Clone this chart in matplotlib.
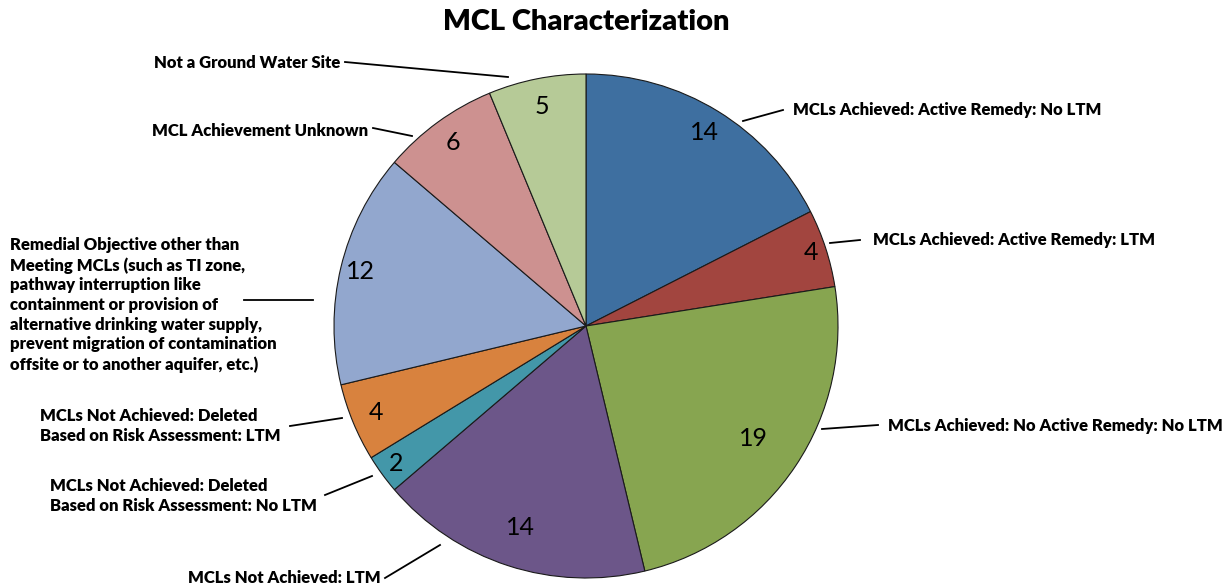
import numpy as np
import matplotlib.pyplot as plt

plt.rcParams['font.family'] = ['Lato', 'DejaVu Sans']

labels = ['MCLs Achieved: Active Remedy: No LTM',
          'MCLs Achieved: Active Remedy: LTM',
          'MCLs Achieved: No Active Remedy: No LTM',
          'MCLs Not Achieved: LTM',
          'MCLs Not Achieved: Deleted\nBased on Risk Assessment: No LTM',
          'MCLs Not Achieved: Deleted\nBased on Risk Assessment: LTM',
          'Remedial Objective other than\nMeeting MCLs (such as TI zone,\npathway interruption like\n'
          'containment or provision of\nalternative drinking water supply,\n'
          'prevent migration of contamination\noffsite or to another aquifer, etc.)',
          'MCL Achievement Unknown',
          'Not a Ground Water Site']
counts = [14, 4, 19, 14, 2, 4, 12, 6, 5]
colors = ['#3E6FA0', '#A2453F', '#87A550', '#6C5689', '#4397A9',
          '#D8823E', '#92A7CE', '#CD9190', '#B6CA97']

W, H = 1230, 588
cx, cy, R = 586, H - 326, 252

# layout: number label radial distance, label text anchor, leader line (pixel coords, y down)
num_dist = [0.9, 0.94, 0.8, 0.84, 0.93, 0.9, 0.92, 0.9, 0.89]
text_pos = [(793, 110, 'left'), (873, 240, 'left'), (888, 426, 'left'),
            (381, 578, 'right'), (50, 496, 'left'), (40, 426, 'left'),
            (10, 305, 'left'), (368, 131, 'right'), (340, 63, 'right')]
leaders = [((743, 121), (783, 110)), ((830, 243), (860, 240)),
           ((822, 429), (878, 425)), ((385, 578), (440, 545)),
           ((325, 495), (372, 476)), ((290, 426), (342, 418)),
           ((244, 300), (313, 300)), ((373, 128), (412, 136)),
           ((345, 62), (508, 77))]

fig = plt.figure(figsize=(12.3, 5.88), dpi=100)
ax = fig.add_axes([0, 0, 1, 1])

wedges, _ = ax.pie(counts, colors=colors, startangle=90, counterclock=False,
                   center=(cx, cy), radius=R,
                   wedgeprops=dict(edgecolor='#1a1a1a', linewidth=0.8))

for w, n, d in zip(wedges, counts, num_dist):
    ang = np.deg2rad((w.theta1 + w.theta2) / 2)
    ax.text(cx + d * R * np.cos(ang), cy + d * R * np.sin(ang), str(n),
            ha='center', va='center', fontsize=18, color='black')

for lab, (tx, ty, ha), ((x0, y0), (x1, y1)) in zip(labels, text_pos, leaders):
    ax.plot([x0, x1], [H - y0, H - y1], color='black', lw=1.3)
    ax.text(tx, H - ty, lab, ha=ha, va='center', fontsize=12,
            fontweight='heavy', linespacing=1.28)

ax.text(cx, H - 22, 'MCL Characterization', ha='center', va='center',
        fontsize=21, fontweight='heavy')

ax.set_xlim(0, W)
ax.set_ylim(0, H)
ax.set_aspect('equal')
ax.axis('off')

plt.savefig('out.png', dpi=100)
